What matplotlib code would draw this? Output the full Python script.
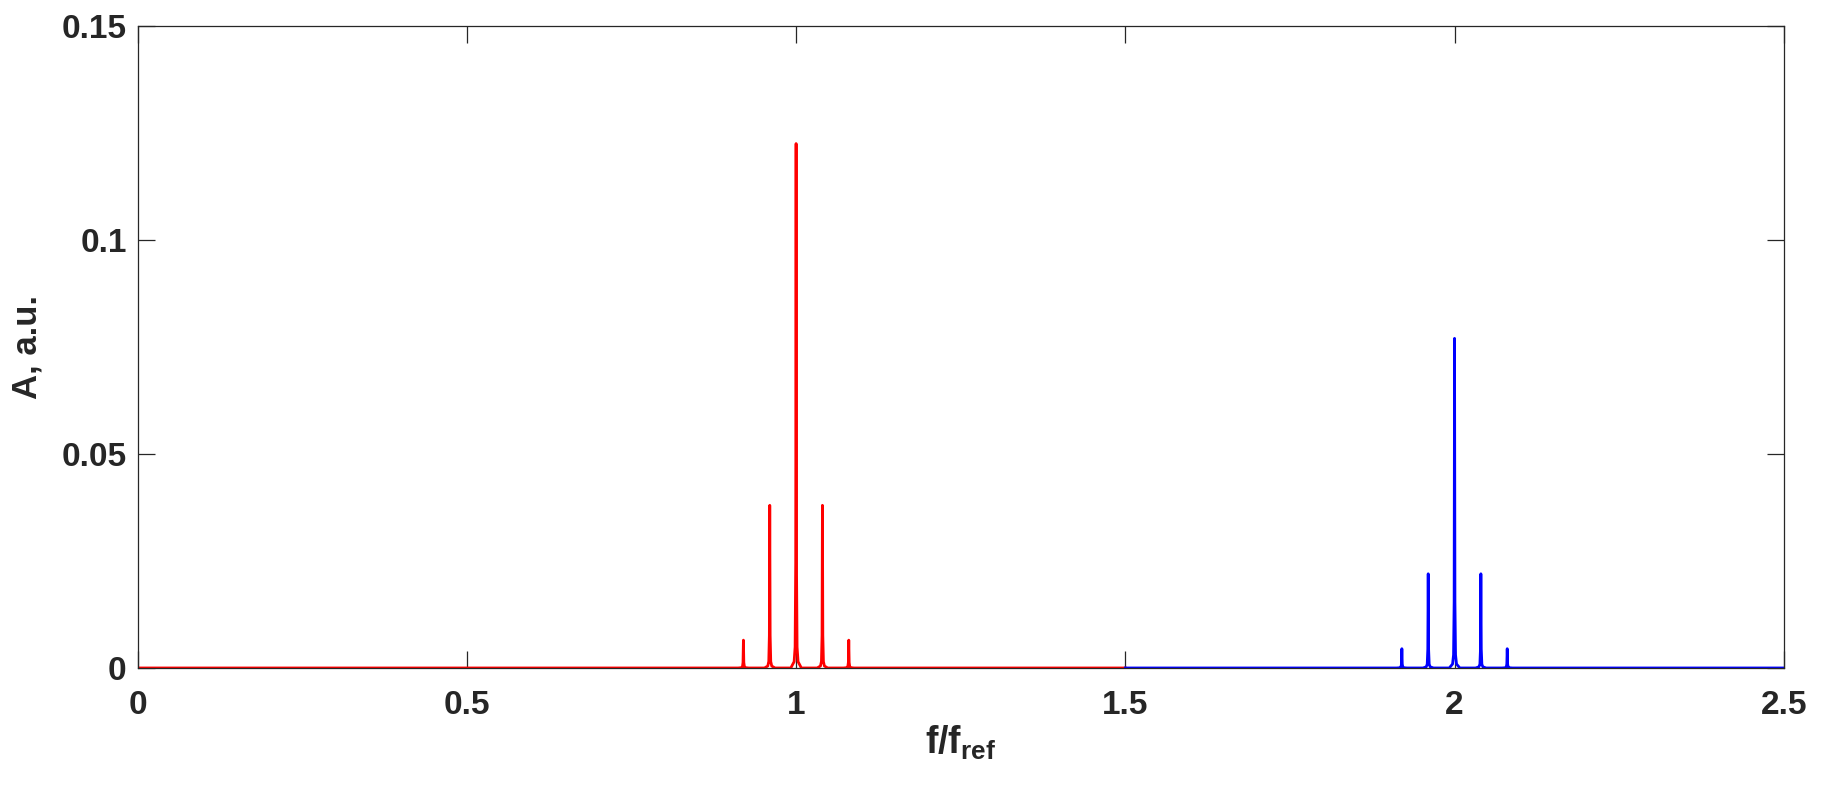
import numpy as np
import matplotlib
matplotlib.use("Agg")
import matplotlib.pyplot as plt

# data
red_range = [0.0, 1.5]
red_centers = [0.92, 0.96, 1.00, 1.04, 1.08]
red_heights = [0.0065, 0.038, 0.1225, 0.038, 0.0065]

blue_range = [1.5, 2.5]
blue_centers = [1.92, 1.96, 2.00, 2.04, 2.08]
blue_heights = [0.0045, 0.022, 0.077, 0.022, 0.0045]

x_ticks = [0, 0.5, 1, 1.5, 2, 2.5]
x_ticklabels = ["0", "0.5", "1", "1.5", "2", "2.5"]
y_ticks = [0, 0.05, 0.1, 0.15]
y_ticklabels = ["0", "0.05", "0.1", "0.15"]


def spectrum_line(rng, centers, heights):
    # narrow spikes on a zero baseline, with a small foot at the base
    offs = [-0.008, -0.003, -0.0015, -0.0006, 0.0, 0.0006, 0.0015, 0.003, 0.008]
    fracs = [0.0, 0.012, 0.04, 0.2, 1.0, 0.2, 0.04, 0.012, 0.0]
    xs = [rng[0]]
    ys = [0.0]
    for c, h in zip(centers, heights):
        xs += [c + o for o in offs]
        ys += [f * h for f in fracs]
    xs.append(rng[1])
    ys.append(0.0)
    return np.array(xs), np.array(ys)


plt.rcParams["font.family"] = ["Liberation Sans", "DejaVu Sans"]
plt.rcParams["font.weight"] = "bold"
plt.rcParams["mathtext.fontset"] = "custom"
plt.rcParams["mathtext.rm"] = "Liberation Sans:bold"
plt.rcParams["mathtext.bf"] = "Liberation Sans:bold"
plt.rcParams["mathtext.it"] = "Liberation Sans:bold"

fig = plt.figure(figsize=(18.28, 8.08), dpi=100)
ax = fig.add_axes([0.0753, 0.1733, 0.9005, 0.7947])

xr, yr = spectrum_line(red_range, red_centers, red_heights)
xb, yb = spectrum_line(blue_range, blue_centers, blue_heights)
ax.plot(xr, yr, color="#ff0000", lw=2.0, solid_joinstyle="round")
ax.plot(xb, yb, color="#0000ff", lw=2.0, solid_joinstyle="round")

ax.set_xlim(0, 2.5)
ax.set_ylim(0, 0.15)
ax.set_xticks(x_ticks)
ax.set_xticklabels(x_ticklabels)
ax.set_yticks(y_ticks)
ax.set_yticklabels(y_ticklabels)

dark = "#262626"
for s in ax.spines.values():
    s.set_color(dark)
    s.set_linewidth(0.9)
ax.tick_params(direction="in", length=12, width=0.9, color=dark,
               labelcolor=dark, labelsize=24, top=True, right=True)
ax.tick_params(axis="x", pad=16)
ax.tick_params(axis="y", pad=8)
for lab in ax.get_xticklabels() + ax.get_yticklabels():
    lab.set_fontweight("bold")

ax.set_xlabel(r"f/f$_{\mathbf{ref}}$", fontsize=27, fontweight="bold", color=dark, labelpad=2)
ax.set_ylabel("A, a.u.", fontsize=25, fontweight="bold", color=dark, labelpad=13)

fig.savefig("out.png", dpi=100)
